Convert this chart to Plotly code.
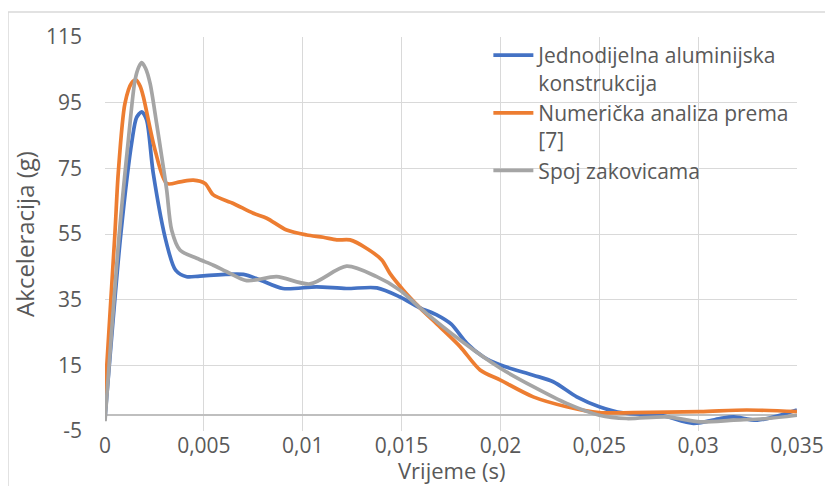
import plotly.graph_objects as go

# ---- data ----
t_blue = [0, 0.0008, 0.00137, 0.0016, 0.00186, 0.0021, 0.00244, 0.00312, 0.00357, 0.00413, 0.0048, 0.007,
          0.00784, 0.009, 0.0107, 0.0122, 0.01375, 0.0149, 0.0159, 0.0168, 0.0175, 0.0183, 0.01913,
          0.02, 0.02166, 0.02267, 0.02386, 0.025, 0.0262, 0.0281, 0.02976, 0.0311, 0.0318,
          0.033, 0.035]
y_blue = [-1, 55, 83.6, 90.5, 92.2, 89.8, 73.5, 52, 44, 42, 42.2, 42.7,
          41, 38.4, 38.9, 38.4, 38.6, 35.9, 32.6, 30.3, 27.6, 21.7, 17.6,
          15.1, 12, 10, 5.4, 2.4, 0.5, -0.2, -2.7, -1.2, -0.7,
          -1.7, 1.4]

t_orange = [0, 0.0005, 0.00067, 0.00101, 0.00135, 0.00157, 0.00178, 0.00194, 0.00253, 0.00312, 0.0038, 0.00447,
            0.00506, 0.00548, 0.00649, 0.0075, 0.00818, 0.00919, 0.0102, 0.01104, 0.01172, 0.01239,
            0.01324, 0.014, 0.01441, 0.01509, 0.01593, 0.01694, 0.01796, 0.01897, 0.02, 0.02166,
            0.02335, 0.025, 0.0267, 0.0301, 0.03245, 0.035]
y_orange = [6, 55, 73.5, 94.8, 101, 101.9, 100, 96.8, 80.6, 70.4, 70.9, 71.4,
            70.4, 66.9, 64.3, 61.3, 59.8, 56.2, 54.7, 54, 53.2, 53.2,
            50.6, 47.1, 43, 37.9, 32.5, 26.7, 20.7, 13.6, 10.5, 5.4,
            2.4, 0.6, 0.6, 0.9, 1.4, 0.9]

t_gray = [0, 0.00072, 0.00118, 0.00152, 0.00172, 0.00186, 0.00205, 0.00228, 0.00261, 0.00287, 0.00312, 0.00337,
          0.00379, 0.00464, 0.00548, 0.00616, 0.00717, 0.00868, 0.01037, 0.01222, 0.01374, 0.01492,
          0.01593, 0.01796, 0.02, 0.02166, 0.02335, 0.025, 0.02638, 0.0284, 0.0301, 0.0318,
          0.0335, 0.035]
y_gray = [-2, 55, 83.6, 101.9, 106, 107.2, 105.5, 100.9, 88.7, 78.5, 68.4, 56.2,
          50.1, 47.6, 45.5, 43.5, 40.8, 42, 39.8, 45.2, 42, 37.9,
          32.5, 22.7, 14.1, 8.5, 3.4, -0.2, -1.2, -0.7, -2.2, -1.7,
          -1.2, -0.2]

series_names = ["Jednodijelna aluminijska<br>konstrukcija",
                "Numerička analiza prema<br>[7]",
                "Spoj zakovicama"]
series_colors = ["#4472C4", "#ED7D31", "#A5A5A5"]

x_tickvals = [0, 0.005, 0.01, 0.015, 0.02, 0.025, 0.03, 0.035]
x_ticktext = ["0", "0,005", "0,01", "0,015", "0,02", "0,025", "0,03", "0,035"]
y_tickvals = [-5, 15, 35, 55, 75, 95, 115]
y_ticktext = ["-5", "15", "35", "55", "75", "95", "115"]
x_title = "Vrijeme (s)"
y_title = "Akceleracija (g)"

FONT = "Open Sans"
TXT = "#595959"

# page body has an 8px margin; plot area target (absolute): x 105..797, y 37..431
OFF = 8
W, H = 833 - 2 * OFF, 494 - 2 * OFF
ML, MT = 105 - OFF, 37 - OFF
MR = (OFF + W) - 797
MB = (OFF + H) - 431
PW, PH = 797 - 105, 431 - 37

fig = go.Figure()
for i, (tx, ty) in enumerate([(t_blue, y_blue), (t_orange, y_orange), (t_gray, y_gray)]):
    fig.add_trace(go.Scatter(
        x=tx, y=ty, mode="lines", name=series_names[i],
        legendgroup=f"g{i}",
        line=dict(color=series_colors[i], width=3.7, shape="spline", smoothing=0.8),
    ))

fig.update_layout(
    width=W, height=H,
    margin=dict(l=ML, r=MR, t=MT, b=MB, autoexpand=False),
    paper_bgcolor="white", plot_bgcolor="white",
    font=dict(family=FONT, color=TXT, size=18),
    showlegend=True,
    legend=dict(
        x=0.554, y=1.005, xanchor="left", yanchor="top",
        bgcolor="rgba(0,0,0,0)", borderwidth=0,
        font=dict(family=FONT, size=21, color=TXT),
        valign="top", traceorder="grouped", tracegroupgap=0,
        itemwidth=40,
    ),
    xaxis=dict(
        range=[0, 0.035], tickvals=x_tickvals, ticktext=x_ticktext,
        showgrid=True, gridcolor="#D9D9D9", gridwidth=1.3,
        zeroline=False, showline=False, ticks="", automargin=False,
        ticklabelstandoff=0,
        tickfont=dict(family=FONT, size=21, color=TXT),
    ),
    yaxis=dict(
        range=[-5, 115], tickvals=y_tickvals, ticktext=y_ticktext,
        showgrid=True, gridcolor="#D9D9D9", gridwidth=1.3,
        zeroline=True, zerolinecolor="#BFBFBF", zerolinewidth=1.5,
        showline=False, ticks="", ticklabelstandoff=22, automargin=False,
        tickfont=dict(family=FONT, size=21, color=TXT),
        title=dict(text=y_title, font=dict(family=FONT, size=24, color=TXT), standoff=6),
    ),
    annotations=[dict(text=x_title, xref="paper", yref="paper", x=0.5, y=(431 - 470) / PH,
                      xanchor="center", yanchor="middle", showarrow=False,
                      font=dict(family=FONT, size=22, color=TXT))],
    shapes=[dict(type="rect", xref="paper", yref="paper",
                 x0=(8 - 105) / PW, x1=(860 - 105) / PW,
                 y0=(431 - 520) / PH, y1=(431 - 12) / PH,
                 line=dict(color="#D9D9D9", width=1.5), fillcolor="rgba(0,0,0,0)", layer="below")],
)

fig.write_html("out.html")
